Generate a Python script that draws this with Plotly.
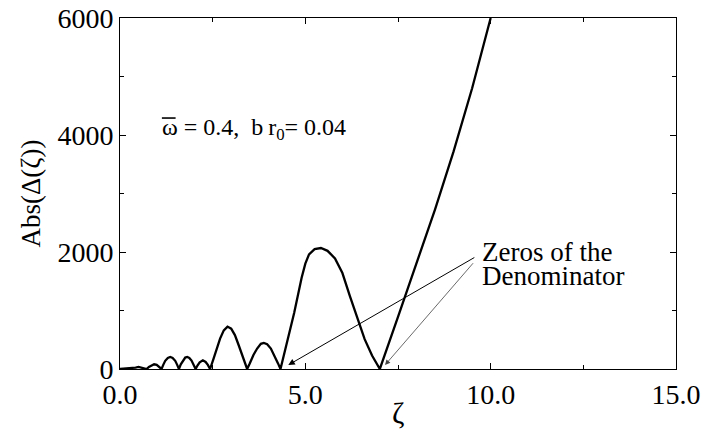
import plotly.graph_objects as go

zeta = [0.00, 0.10, 0.20, 0.30, 0.35, 0.42, 0.50, 0.58, 0.65, 0.72, 0.78, 0.85, 0.92, 0.99, 1.06, 1.12,
        1.17, 1.22, 1.29, 1.355, 1.42, 1.49, 1.54, 1.59,
        1.64, 1.70, 1.76, 1.815, 1.87, 1.93, 1.99, 2.04,
        2.09, 2.15, 2.235, 2.31, 2.37, 2.43,
        2.52, 2.60, 2.70, 2.80, 2.90, 3.00, 3.10, 3.20, 3.30, 3.38, 3.43,
        3.50, 3.60, 3.70, 3.80, 3.88, 3.97, 4.07, 4.17, 4.26, 4.33,
        4.50, 4.70, 4.90, 5.00, 5.10, 5.25, 5.42, 5.60, 5.80, 6.00, 6.20, 6.40, 6.60, 6.80, 7.01,
        7.50, 8.00, 8.50, 9.00, 9.50, 10.00]
abs_delta = [0, 4, 10, 14, 10, 25, 35, 25, 8, 0, 35, 65, 80, 70, 35, 0,
             75, 140, 190, 205, 190, 140, 75, 0,
             80, 150, 195, 205, 190, 145, 75, 0,
             60, 115, 148, 120, 70, 0,
             170, 330, 520, 660, 725, 690, 580, 410, 240, 100, 0,
             95, 240, 350, 430, 445, 425, 350, 230, 100, 0,
             420, 960, 1560, 1800, 1960, 2050, 2068, 2020, 1890, 1640, 1250, 870, 510, 230, 0,
             890, 1810, 2730, 3720, 4800, 6000]

x_ticks = [0, 5, 10, 15]
x_tick_labels = ["0.0", "5.0", "10.0", "15.0"]
y_ticks = [0, 2000, 4000, 6000]
y_tick_labels = ["0", "2000", "4000", "6000"]

FONT = "Liberation Serif"

fig = go.Figure()
fig.add_trace(go.Scatter(x=zeta, y=abs_delta, mode="lines",
                         line=dict(color="black", width=2.3), showlegend=False,
                         cliponaxis=True))

axis_common = dict(showline=True, linecolor="black", linewidth=1, mirror="ticks",
                   ticks="inside", ticklen=6, tickcolor="black", showgrid=False,
                   zeroline=False, automargin=False,
                   tickfont=dict(family=FONT, size=28, color="black"))

fig.update_xaxes(range=[0, 15], tickvals=x_ticks, ticktext=x_tick_labels,
                 minor=dict(dtick=2.5, ticklen=4, ticks="inside", tickcolor="black"),
                 **axis_common)
fig.update_yaxes(range=[0, 6000], tickvals=y_ticks, ticktext=y_tick_labels,
                 minor=dict(dtick=1000, ticklen=4, ticks="inside", tickcolor="black"),
                 title=dict(text="Abs(Δ(ζ))", font=dict(family=FONT, size=27, color="black"), standoff=8),
                 **axis_common)

# x-axis title
fig.add_annotation(x=0.5, y=-0.125, xref="paper", yref="paper", xanchor="center", yanchor="middle",
                   text="ζ", showarrow=False, font=dict(family=FONT, size=30, color="black"))

fig.add_annotation(x=1.08, y=4100, xref="x", yref="y", xanchor="left", yanchor="middle",
                   text="ω = 0.4,\u00a0\u00a0b\u2009r<sub>0</sub>= 0.04", showarrow=False,
                   font=dict(family=FONT, size=24, color="black"))
# overline on omega
fig.add_shape(type="line", xref="x", yref="y", x0=1.13, x1=1.50, y0=4290, y1=4290,
              line=dict(color="black", width=1.6))

fig.add_annotation(x=9.72, y=2000, xref="x", yref="y", xanchor="left", yanchor="middle",
                   text="Zeros of the", showarrow=False,
                   font=dict(family=FONT, size=27, color="black"))
fig.add_annotation(x=9.72, y=1590, xref="x", yref="y", xanchor="left", yanchor="middle",
                   text="Denominator", showarrow=False,
                   font=dict(family=FONT, size=27, color="black"))

fig.add_annotation(x=4.54, y=68, ax=9.60, ay=1920, xref="x", yref="y", axref="x", ayref="y",
                   text="", showarrow=True, arrowhead=2, arrowsize=1.3, arrowwidth=1,
                   arrowcolor="black")
fig.add_annotation(x=7.15, y=68, ax=9.56, ay=1834, xref="x", yref="y", axref="x", ayref="y",
                   text="", showarrow=True, arrowhead=2, arrowsize=1.3, arrowwidth=0.8,
                   arrowcolor="#444")

fig.update_layout(width=704, height=440, margin=dict(l=120, r=28, t=18, b=71),
                  plot_bgcolor="white", paper_bgcolor="white")

fig.write_html("out.html")
